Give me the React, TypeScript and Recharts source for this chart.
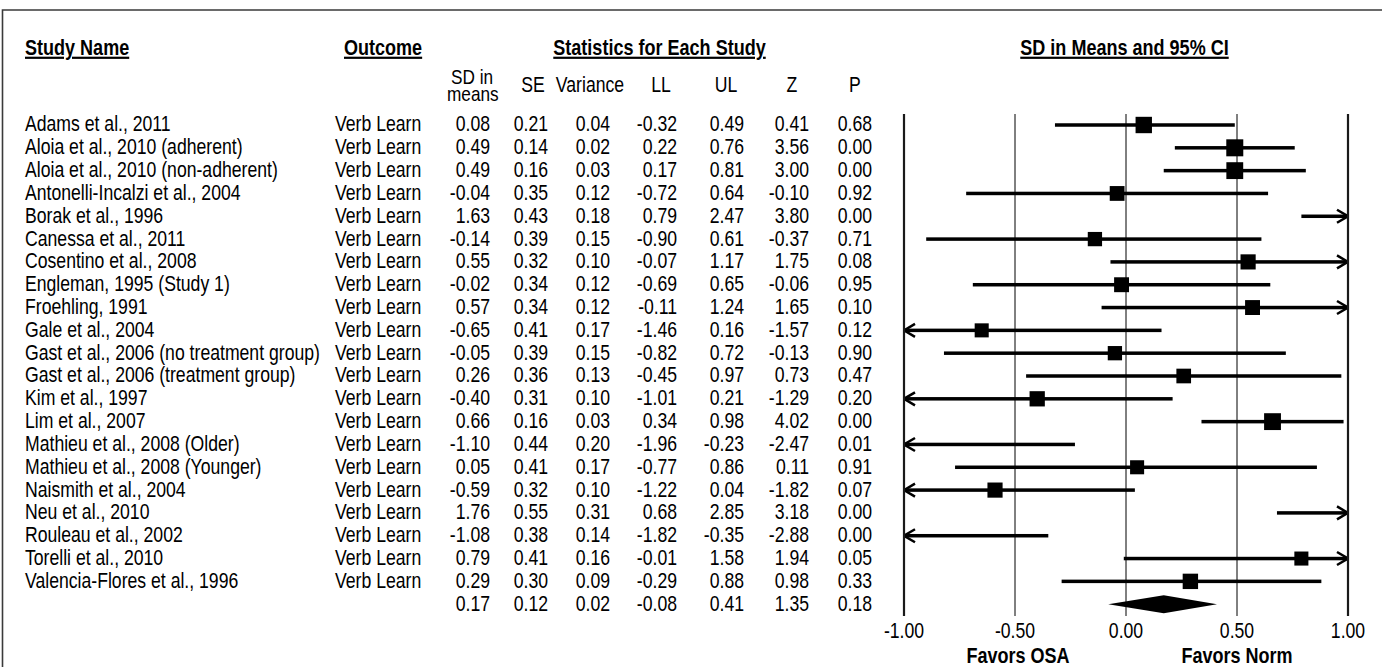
import React from 'react';
import { ComposedChart, XAxis, YAxis, Bar, ReferenceLine } from 'recharts';

const studyNames = [
  'Adams et al., 2011',
  'Aloia et al., 2010 (adherent)',
  'Aloia et al., 2010 (non-adherent)',
  'Antonelli-Incalzi et al., 2004',
  'Borak et al., 1996',
  'Canessa et al., 2011',
  'Cosentino et al., 2008',
  'Engleman, 1995 (Study 1)',
  'Froehling, 1991',
  'Gale et al., 2004',
  'Gast et al., 2006 (no treatment group)',
  'Gast et al., 2006 (treatment group)',
  'Kim et al., 1997',
  'Lim et al., 2007',
  'Mathieu et al., 2008 (Older)',
  'Mathieu et al., 2008 (Younger)',
  'Naismith et al., 2004',
  'Neu et al., 2010',
  'Rouleau et al., 2002',
  'Torelli et al., 2010',
  'Valencia-Flores et al., 1996',
];
const outcomeLabel = 'Verb Learn';
const sdInMeans = [0.08, 0.49, 0.49, -0.04, 1.63, -0.14, 0.55, -0.02, 0.57, -0.65, -0.05, 0.26, -0.40, 0.66, -1.10, 0.05, -0.59, 1.76, -1.08, 0.79, 0.29];
const standardErrors = [0.21, 0.14, 0.16, 0.35, 0.43, 0.39, 0.32, 0.34, 0.34, 0.41, 0.39, 0.36, 0.31, 0.16, 0.44, 0.41, 0.32, 0.55, 0.38, 0.41, 0.30];
const variances = [0.04, 0.02, 0.03, 0.12, 0.18, 0.15, 0.10, 0.12, 0.12, 0.17, 0.15, 0.13, 0.10, 0.03, 0.20, 0.17, 0.10, 0.31, 0.14, 0.16, 0.09];
const lowerLimits = [-0.32, 0.22, 0.17, -0.72, 0.79, -0.90, -0.07, -0.69, -0.11, -1.46, -0.82, -0.45, -1.01, 0.34, -1.96, -0.77, -1.22, 0.68, -1.82, -0.01, -0.29];
const upperLimits = [0.49, 0.76, 0.81, 0.64, 2.47, 0.61, 1.17, 0.65, 1.24, 0.16, 0.72, 0.97, 0.21, 0.98, -0.23, 0.86, 0.04, 2.85, -0.35, 1.58, 0.88];
const zValues = [0.41, 3.56, 3.00, -0.10, 3.80, -0.37, 1.75, -0.06, 1.65, -1.57, -0.13, 0.73, -1.29, 4.02, -2.47, 0.11, -1.82, 3.18, -2.88, 1.94, 0.98];
const pValues = [0.68, 0.00, 0.00, 0.92, 0.00, 0.71, 0.08, 0.95, 0.10, 0.12, 0.90, 0.47, 0.20, 0.00, 0.01, 0.91, 0.07, 0.00, 0.00, 0.05, 0.33];
// overall: SD in means, SE, Variance, LL, UL, Z, P
const summaryValues = [0.17, 0.12, 0.02, -0.08, 0.41, 1.35, 0.18];
const axisTicks = [-1, -0.5, 0, 0.5, 1];
const axisDomain = [-1, 1];

type Row = {
  name: string; outcome: string; sd: number; se: number; v: number;
  ll: number; ul: number; z: number; p: number; summary: boolean;
};

const rows: Row[] = studyNames.map((name, i) => ({
  name,
  outcome: outcomeLabel,
  sd: sdInMeans[i],
  se: standardErrors[i],
  v: variances[i],
  ll: lowerLimits[i],
  ul: upperLimits[i],
  z: zValues[i],
  p: pValues[i],
  summary: false,
}));
rows.push({
  name: 'Overall',
  outcome: '',
  sd: summaryValues[0],
  se: summaryValues[1],
  v: summaryValues[2],
  ll: summaryValues[3],
  ul: summaryValues[4],
  z: summaryValues[5],
  p: summaryValues[6],
  summary: true,
});

// random-effects style weights for square size
const TAU2 = 0.3;
const weights = standardErrors.map((s) => 1 / (s * s + TAU2));
const maxWeight = Math.max(...weights);
const squareSide = (se: number) => 17 * Math.sqrt(1 / (se * se + TAU2) / maxWeight);

const FONT = "'Liberation Sans', Arial, sans-serif";
const SX = 0.82;
const fmt = (v: number) => v.toFixed(2);

function NT(props: {
  x: number; y: number; anchor?: 'start' | 'middle' | 'end'; bold?: boolean;
  size?: number; underline?: boolean; children: React.ReactNode;
}) {
  const { x, y, anchor = 'start', bold = false, size = 21.5, underline = false, children } = props;
  return (
    <g transform={`translate(${x},${y}) scale(${SX},1)`}>
      <text
        x={0}
        y={0}
        textAnchor={anchor}
        fontFamily={FONT}
        fontSize={size}
        fontWeight={bold ? 700 : 400}
        fill="#000"
        style={underline ? { textDecoration: 'underline' } : undefined}
      >
        {children}
      </text>
    </g>
  );
}

const colRight = { sd: 490, se: 548, v: 610, ll: 677, ul: 744, z: 809, p: 872 };

const RowTick = (props: any) => {
  const { y, payload } = props;
  const row = rows.find((r) => r.name === payload.value);
  if (!row) return null;
  const by = y + 6;
  return (
    <g>
      {!row.summary && <NT x={25} y={by}>{row.name}</NT>}
      {!row.summary && <NT x={335} y={by}>{row.outcome}</NT>}
      <NT x={colRight.sd} y={by} anchor="end">{fmt(row.sd)}</NT>
      <NT x={colRight.se} y={by} anchor="end">{fmt(row.se)}</NT>
      <NT x={colRight.v} y={by} anchor="end">{fmt(row.v)}</NT>
      <NT x={colRight.ll} y={by} anchor="end">{fmt(row.ll)}</NT>
      <NT x={colRight.ul} y={by} anchor="end">{fmt(row.ul)}</NT>
      <NT x={colRight.z} y={by} anchor="end">{fmt(row.z)}</NT>
      <NT x={colRight.p} y={by} anchor="end">{fmt(row.p)}</NT>
    </g>
  );
};

const AxisTick = (props: any) => {
  const { x, payload } = props;
  return <NT x={x} y={638} anchor="middle">{fmt(payload.value)}</NT>;
};

const clipLo = (v: number) => Math.max(v, axisDomain[0]);
const clipHi = (v: number) => Math.min(v, axisDomain[1]);
const ciRange = (d: Row) => [clipLo(d.ll), clipHi(d.ul)];

const CiShape = (props: any) => {
  const { x, y, width, height, payload } = props;
  if (x == null || width == null || !payload) return null;
  const cy = y + height / 2;
  const lo = clipLo(payload.ll);
  const hi = clipHi(payload.ul);
  const px = (v: number) => x + (width * (v - lo)) / (hi - lo);
  if (payload.summary) {
    const xm = px(payload.sd);
    return (
      <polygon
        points={`${x},${cy} ${xm},${cy - 9} ${x + width},${cy} ${xm},${cy + 9}`}
        fill="#000"
      />
    );
  }
  const inRange = payload.sd >= axisDomain[0] && payload.sd <= axisDomain[1];
  const s = squareSide(payload.se);
  const xr = x + width;
  return (
    <g>
      <rect x={x} y={cy - 1.75} width={width} height={3.5} fill="#000" />
      {payload.ul > axisDomain[1] && (
        <polyline
          points={`${xr - 11},${cy - 6.5} ${xr},${cy} ${xr - 11},${cy + 6.5}`}
          fill="none"
          stroke="#000"
          strokeWidth={2.5}
        />
      )}
      {payload.ll < axisDomain[0] && (
        <polyline
          points={`${x + 11},${cy - 6.5} ${x},${cy} ${x + 11},${cy + 6.5}`}
          fill="none"
          stroke="#000"
          strokeWidth={2.5}
        />
      )}
      {inRange && (
        <rect x={px(payload.sd) - s / 2} y={cy - s / 2} width={s} height={s} fill="#000" />
      )}
    </g>
  );
};

export default function App() {
  return (
    <div style={{ position: 'absolute', left: 0, top: 0, width: 1382, height: 667, background: '#fff' }}>
      <ComposedChart
        width={1382}
        height={667}
        data={rows}
        layout="vertical"
        margin={{ top: 114, right: 34, bottom: 21, left: 0 }}
      >
        <XAxis
          type="number"
          domain={axisDomain}
          ticks={axisTicks}
          allowDataOverflow
          axisLine={false}
          tickLine={false}
          tickSize={0}
          tickMargin={0}
          height={30}
          interval={0}
          tick={<AxisTick />}
        />
        <YAxis
          type="category"
          dataKey="name"
          width={904}
          axisLine={false}
          tickLine={false}
          interval={0}
          tick={<RowTick />}
        />
        {axisTicks.map((t) => (
          <ReferenceLine
            key={t}
            x={t}
            stroke={t === -1 || t === 1 ? '#1a1a1a' : '#000'}
            strokeWidth={t === -1 || t === 1 ? 2.2 : 1}
            ifOverflow="visible"
          />
        ))}
        <Bar dataKey={ciRange} barSize={20} shape={<CiShape />} isAnimationActive={false} />
      </ComposedChart>
      <svg
        width={1382}
        height={667}
        style={{ position: 'absolute', left: 0, top: 0, pointerEvents: 'none' }}
      >
        <path d="M2.5,667 L2.5,10 L1384,10" fill="none" stroke="#3a3a3a" strokeWidth={1.6} />
        <NT x={25} y={54.5} bold size={22} underline>Study Name</NT>
        <NT x={344} y={54.5} bold size={22} underline>Outcome</NT>
        <NT x={659.5} y={54.5} anchor="middle" bold size={22} underline>Statistics for Each Study</NT>
        <NT x={1124.5} y={54.5} anchor="middle" bold size={22} underline>SD in Means and 95% CI</NT>
        <g transform={`translate(472,84) scale(${SX},1)`}>
          <text x={0} y={0} textAnchor="middle" fontFamily={FONT} fontSize={21} fill="#000">
            <tspan x={0} dy={0}>SD in</tspan>
            <tspan x={1} dy={16.5}>means</tspan>
          </text>
        </g>
        <NT x={533} y={92} anchor="middle">SE</NT>
        <NT x={590} y={92} anchor="middle">Variance</NT>
        <NT x={661} y={92} anchor="middle">LL</NT>
        <NT x={726} y={92} anchor="middle">UL</NT>
        <NT x={792} y={92} anchor="middle">Z</NT>
        <NT x={855} y={92} anchor="middle">P</NT>
        <NT x={1018} y={662.5} anchor="middle" bold size={22}>Favors OSA</NT>
        <NT x={1237} y={662.5} anchor="middle" bold size={22}>Favors Norm</NT>
      </svg>
    </div>
  );
}
